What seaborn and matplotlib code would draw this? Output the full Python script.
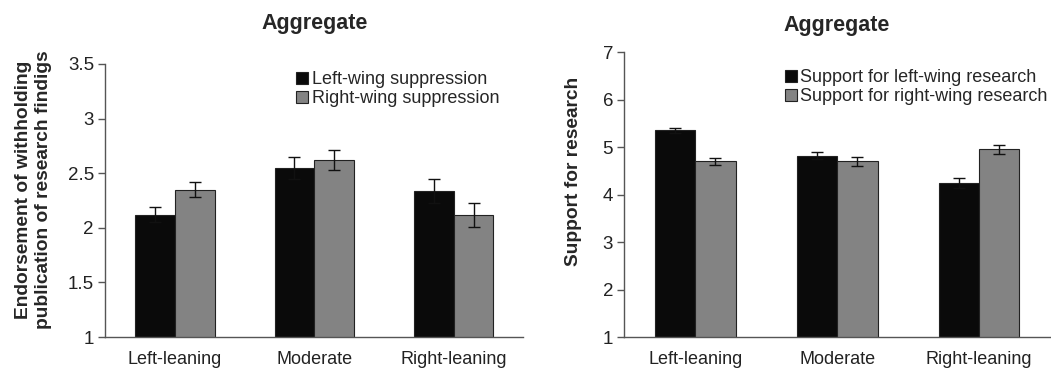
import pandas as pd
import matplotlib
matplotlib.use("Agg")
import matplotlib.pyplot as plt
import seaborn as sns

groups = ["Left-leaning", "Moderate", "Right-leaning"]

# left panel: endorsement of withholding publication
supp_series = ["Left-wing suppression", "Right-wing suppression"]
supp_left = [2.12, 2.55, 2.34]
supp_right = [2.35, 2.62, 2.12]
supp_left_err = [0.07, 0.10, 0.11]
supp_right_err = [0.07, 0.09, 0.11]

# right panel: support for research
res_series = ["Support for left-wing research", "Support for right-wing research"]
res_left = [5.35, 4.82, 4.24]
res_right = [4.70, 4.70, 4.95]
res_left_err = [0.05, 0.08, 0.11]
res_right_err = [0.07, 0.09, 0.09]

sns.set_style("white")
plt.rcParams["font.family"] = ["Liberation Sans", "DejaVu Sans"]

colors = ["#0a0a0a", "#838383"]


def make_df(series, a, b):
    return pd.DataFrame({
        "group": groups * 2,
        "series": [series[0]] * 3 + [series[1]] * 3,
        "value": a + b,
    })


def draw(ax, series, a, b, ea, eb, ylim, yticks, ylabel, title, title_pad, leg_anchor, lab_xy):
    df = make_df(series, a, b)
    sns.barplot(data=df, x="group", y="value", hue="series", hue_order=series,
                order=groups, palette=colors, width=0.57, gap=0, errorbar=None,
                edgecolor="#222222", linewidth=0.8, ax=ax)
    for cont, err in zip(ax.containers, [ea, eb]):
        xs = [p.get_x() + p.get_width() / 2 for p in cont.patches]
        ys = [p.get_height() for p in cont.patches]
        ax.errorbar(xs, ys, yerr=err, fmt="none", ecolor="#111111",
                    elinewidth=1, capsize=4, capthick=1)
    ax.set_ylim(*ylim)
    ax.set_xlim(-0.5, 2.5)
    ax.set_yticks(yticks)
    ax.set_yticklabels([f"{t:g}" for t in yticks], fontsize=13.5, color="#222222")
    ax.set_xticks([0, 1, 2])
    ax.set_xticklabels(groups, fontsize=13, color="#222222")
    ax.set_xticks([-0.5, 0.5, 1.5, 2.5], minor=True)
    ax.tick_params(axis="x", which="major", length=0, pad=10)
    ax.tick_params(axis="x", which="minor", length=5, width=1, color="#555555", direction="out")
    ax.tick_params(axis="y", length=5, width=1, color="#555555", direction="out", left=True, pad=3)
    ax.set_xlabel("")
    ax.set_ylabel(ylabel, fontsize=13.8, fontweight="bold", linespacing=1.25)
    ax.yaxis.set_label_coords(*lab_xy)
    ax.set_title(title, fontsize=15.5, fontweight="bold", pad=title_pad)
    for s in ["top", "right"]:
        ax.spines[s].set_visible(False)
    for s in ["left", "bottom"]:
        ax.spines[s].set_color("#555555")
        ax.spines[s].set_linewidth(1)
    ax.legend(loc="upper left", bbox_to_anchor=leg_anchor, bbox_transform=ax.figure.transFigure,
              frameon=False, fontsize=13, handlelength=0.65, handleheight=0.65,
              handletextpad=0.2, labelspacing=0.1, borderpad=0, borderaxespad=0)


fig = plt.figure(figsize=(10.51, 3.72), dpi=100)
ax1 = fig.add_axes([0.100, 0.094, 0.398, 0.734])
ax2 = fig.add_axes([0.594, 0.094, 0.405, 0.766])

draw(ax1, supp_series, supp_left, supp_right, supp_left_err, supp_right_err,
     (1, 3.5), [1, 1.5, 2, 2.5, 3, 3.5],
     "Endorsement of withholding\npublication of research findigs",
     "Aggregate", 25, (0.282, 0.808), (-0.127, 0.54))
draw(ax2, res_series, res_left, res_right, res_left_err, res_right_err,
     (1, 7), [1, 2, 3, 4, 5, 6, 7],
     "Support for research", "Aggregate", 15, (0.747, 0.814), (-0.099, 0.58))

fig.savefig("out.png", dpi=100)
